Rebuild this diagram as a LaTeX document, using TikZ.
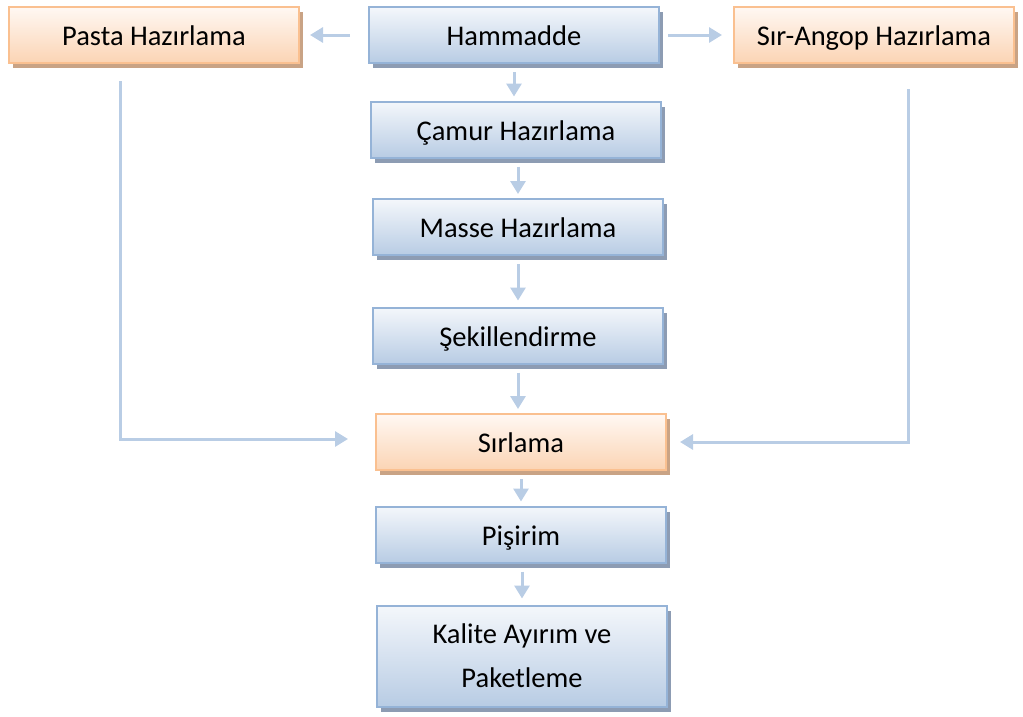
\documentclass[tikz,border=0pt]{standalone}
\usepackage{fontspec}
\setmainfont{Carlito}
\usetikzlibrary{positioning,calc,arrows.meta,shadows}

\definecolor{boxblue}{HTML}{B8CCE4}
\definecolor{boxbluetop}{HTML}{F4F7FB}
\definecolor{lineblue}{HTML}{95B3D7}
\definecolor{shadeblue}{HTML}{8D9CB3}
\definecolor{boxpeach}{HTML}{FBD4B4}
\definecolor{boxpeachtop}{HTML}{FFF8F3}
\definecolor{linepeach}{HTML}{FAC090}
\definecolor{shadepeach}{HTML}{C9A385}
\definecolor{arrowblue}{HTML}{B9CDE5}

\begin{document}
\begin{tikzpicture}[x=1pt,y=-1pt,
  every node/.style={font=\fontsize{28.5}{44}\selectfont},
  mainbox/.style={draw=lineblue,line width=2pt,top color=boxbluetop,bottom color=boxblue,
    minimum width=290pt,minimum height=56pt,align=center,text height=25pt,text depth=4pt,
    drop shadow={shadow xshift=4pt,shadow yshift=-5pt,fill=shadeblue,opacity=1}},
  sidebox/.style={mainbox,draw=linepeach,top color=boxpeachtop,bottom color=boxpeach,
    drop shadow={shadow xshift=4pt,shadow yshift=-5pt,fill=shadepeach,opacity=1}},
  flow/.style={draw=arrowblue,line width=3pt,-{Triangle[length=13pt,width=15pt]}}]
\useasboundingbox (0,0) rectangle (1023,716);

\node[mainbox] (hammadde) at (514,35) {Hammadde};
\node[sidebox,left=68pt of hammadde] (pasta) {Pasta Hazırlama};
\node[sidebox,right=73pt of hammadde,minimum width=280pt] (sirangop) {Sır-Angop Hazırlama};

\node[mainbox,below=36.5pt of hammadde,xshift=2pt] (camur) {Çamur Hazırlama};
\node[mainbox,below=39.5pt of camur,xshift=2pt] (masse) {Masse Hazırlama};
\node[mainbox,below=50.5pt of masse] (sekil) {Şekillendirme};
\node[sidebox,below=48.5pt of sekil,xshift=3pt] (sirlama) {Sırlama};
\node[mainbox,below=34.5pt of sirlama] (pisirim) {Pişirim};
\node[mainbox,below=41pt of pisirim,xshift=1pt,minimum height=101pt,text height=,text depth=] (kalite) {Kalite Ayırım ve\\Paketleme};

% side branches
\draw[flow,shorten <=18pt,shorten >=10pt] (hammadde) -- (pasta);
\draw[flow,shorten <=8pt,shorten >=11pt] (hammadde) -- (sirangop);

% main line
\draw[flow,shorten <=8pt,shorten >=4pt] (hammadde) -- (hammadde |- camur.north);
\draw[flow,shorten <=8pt,shorten >=4pt] (camur.south -| masse) -- (masse);
\draw[flow,shorten <=8pt,shorten >=6pt] (masse) -- (sekil);
\draw[flow,shorten <=8pt,shorten >=4pt] (sekil) -- (sekil |- sirlama.north);
\draw[flow,shorten <=8pt,shorten >=4pt] (sirlama) -- (sirlama |- pisirim.north);
\draw[flow,shorten <=8pt,shorten >=6pt] (pisirim.south -| kalite) -- (kalite);

% glaze inputs
\draw[flow,shorten <=17pt,shorten >=27pt] ($(pasta.south)+(-34,0)$) |- ($(sirlama.west)+(0,-3)$);
\draw[flow,shorten <=25pt,shorten >=13pt] ($(sirangop.south)+(34,0)$) |- (sirlama.east);
\end{tikzpicture}
\end{document}
